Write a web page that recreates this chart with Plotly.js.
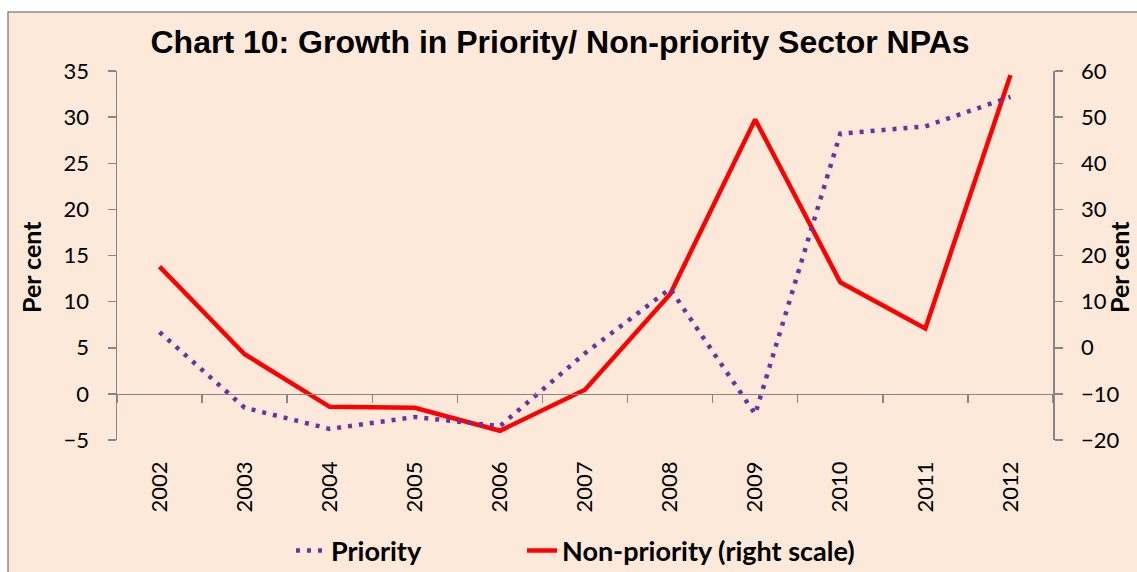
<!DOCTYPE html>
<html><head><meta charset="utf-8">
<script src="https://cdn.plot.ly/plotly-3.0.1.min.js"></script>
<style>html,body{margin:0;padding:0;background:#fff}#chart{width:1137px;height:572px}</style>
</head><body><div id="chart"></div>
<script>
const years = ['2002','2003','2004','2005','2006','2007','2008','2009','2010','2011','2012'];
const priority = [6.7, -1.5, -3.8, -2.5, -3.5, 4.4, 11.4, -2.2, 28.2, 29.0, 32.2];
const nonPriority = [17.6, -1.4, -12.8, -13.0, -18.0, -9.1, 11.6, 49.5, 14.2, 4.2, 59.1];
const leftTicks = [-5, 0, 5, 10, 15, 20, 25, 30, 35];
const rightTicks = [-20, -10, 0, 10, 20, 30, 40, 50, 60];

const axisGray = '#868686';
const tickFont = {family: 'Lato, sans-serif', size: 22, color: '#000'};
const boldFont = {family: 'Lato, sans-serif', size: 25, color: '#000', weight: 'bold'};
const legendFont = {family: 'Lato, sans-serif', size: 27, color: '#000', weight: 'bold'};

const traces = [
  {x: years, y: priority, name: 'Priority', type: 'scatter', mode: 'lines',
   xaxis: 'x2', yaxis: 'y', legend: 'legend',
   line: {color: '#7030A0', width: 4.5, dash: '4px,7px'}},
  {x: years, y: nonPriority, name: 'Non-priority (right scale)', type: 'scatter', mode: 'lines',
   xaxis: 'x', yaxis: 'y2', legend: 'legend2',
   line: {color: '#FF0000', width: 4.5}}
];

const layout = {
  width: 1137, height: 572,
  margin: {l: 117, r: 84, t: 71, b: 132, autoexpand: false},
  paper_bgcolor: '#ffffff',
  plot_bgcolor: 'rgba(0,0,0,0)',
  title: {text: 'Chart 10: Growth in Priority/ Non-priority Sector NPAs',
          font: {family: 'Liberation Sans, Arial, sans-serif', size: 32, color: '#000', weight: 'bold'},
          x: 560/1137, xanchor: 'center', xref: 'container',
          y: 1 - 42/572, yanchor: 'middle', yref: 'container'},
  xaxis: {type: 'category', range: [-0.5, 10.5], showline: false, showgrid: false, zeroline: false,
          ticks: '', tickangle: -90, tickfont: tickFont, ticklabelstandoff: 16, anchor: 'y'},
  xaxis2: {type: 'category', matches: 'x', overlaying: 'x', anchor: 'free', position: 0.125,
           showline: true, linecolor: axisGray, linewidth: 1.5, showgrid: false, zeroline: false,
           ticks: 'outside', tickson: 'boundaries', ticklen: 8, tickcolor: axisGray, tickwidth: 1.5,
           showticklabels: false},
  yaxis: {range: [-5, 35], tickvals: leftTicks, showline: true, linecolor: axisGray, linewidth: 1.5,
          ticks: 'outside', ticklen: 8, tickcolor: axisGray, tickwidth: 1.5, showgrid: false, zeroline: false,
          tickfont: tickFont, ticklabelstandoff: 14},
  yaxis2: {range: [-20, 60], tickvals: rightTicks, overlaying: 'y', side: 'right', showline: true,
           linecolor: axisGray, linewidth: 1.5, ticks: 'outside', ticklen: 8, tickcolor: axisGray, tickwidth: 1.5,
           showgrid: false, zeroline: false, tickfont: tickFont, ticklabelstandoff: 14},
  showlegend: true,
  legend: {orientation: 'h', x: (291-117)/936, xanchor: 'left', y: (440-551)/369, yanchor: 'middle',
           font: legendFont, bgcolor: 'rgba(0,0,0,0)'},
  legend2: {orientation: 'h', x: (522-117)/936, xanchor: 'left', y: (440-551)/369, yanchor: 'middle',
           font: legendFont, bgcolor: 'rgba(0,0,0,0)'},
  shapes: [{type: 'rect', xref: 'paper', yref: 'paper', layer: 'below',
            x0: (8-117)/936, x1: (1145-117)/936, y0: (440-580)/369, y1: 1 + 59/369,
            fillcolor: '#FDE9D9', line: {color: '#8c8c8c', width: 1.5}}],
  annotations: [
    {text: 'Per cent', textangle: -90, xref: 'paper', yref: 'paper', x: (31-117)/936, y: (440-267)/369,
     showarrow: false, xanchor: 'center', yanchor: 'middle', font: boldFont},
    {text: 'Per cent', textangle: -90, xref: 'paper', yref: 'paper', x: (1119-117)/936, y: (440-267)/369,
     showarrow: false, xanchor: 'center', yanchor: 'middle', font: boldFont}
  ]
};

Plotly.newPlot('chart', traces, layout, {displayModeBar: false, staticPlot: true});
</script></body></html>
